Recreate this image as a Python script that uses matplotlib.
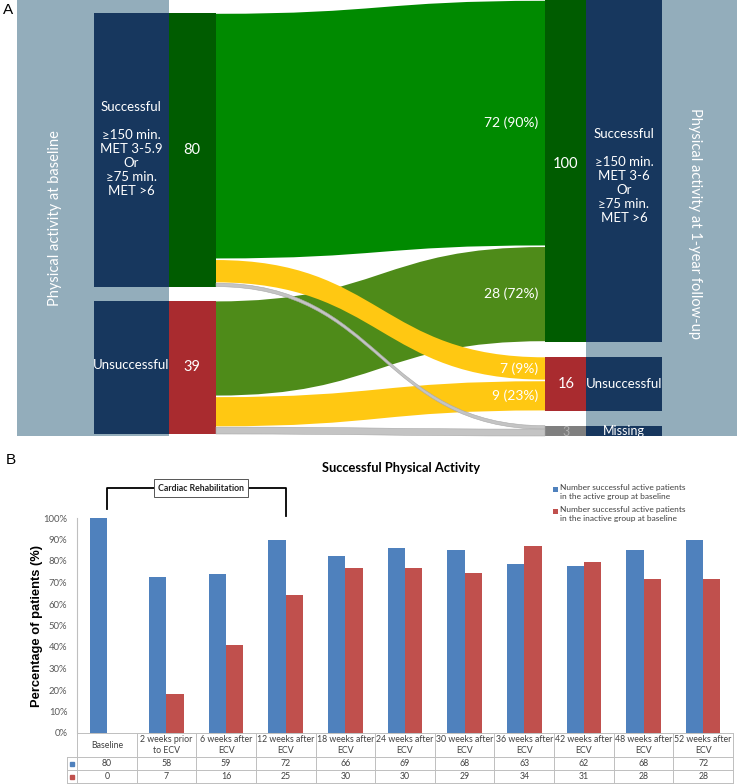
import matplotlib.pyplot as plt
import numpy as np
from matplotlib.path import Path
from matplotlib.patches import PathPatch, Rectangle

plt.rcParams['font.family'] = ['Lato', 'DejaVu Sans']

# ---- panel A data (baseline -> 1 year follow-up)
left_counts = [80, 39]
right_counts = [100, 16, 3]
left_text = ['Successful\n\n\u2265150 min.\nMET 3-5.9\nOr\n\u226575 min.\nMET >6', 'Unsuccessful']
right_text = ['Successful\n\n\u2265150 min.\nMET 3-6\nOr\n\u226575 min.\nMET >6', 'Unsuccessful', 'Missing']
flow_src = [0, 0, 0, 1, 1, 1]
flow_dst = [0, 1, 2, 0, 1, 2]
flow_n = [72, 7, 1, 28, 9, 2]
flow_labels = ['72 (90%)', '7 (9%)', '', '28 (72%)', '9 (23%)', '']

# ---- panel B data
timepoints = ['Baseline', '2 weeks prior\nto ECV', '6 weeks after\nECV', '12 weeks after\nECV',
              '18 weeks after\nECV', '24 weeks after\nECV', '30 weeks after\nECV', '36 weeks after\nECV',
              '42 weeks after\nECV', '48 weeks after\nECV', '52 weeks after\nECV']
n_active = [80, 58, 59, 72, 66, 69, 68, 63, 62, 68, 72]
n_inactive = [0, 7, 16, 25, 30, 30, 29, 34, 31, 28, 28]
group_active = 80
group_inactive = 39

W, H = 738, 784
fig = plt.figure(figsize=(W / 100, H / 100), dpi=100)

def fx(px):
    return px / W

def fy(py):
    return 1 - py / H

# ===================== panel A
axA = fig.add_axes([0, 0, 1, 1])
axA.set_xlim(0, W)
axA.set_ylim(H, 0)
axA.axis('off')

band = '#93ADBB'
navy = '#17375E'
white = 'white'
k = 3.42  # px per patient

axA.add_patch(Rectangle((17, 0), 152, 436, fc=band, ec='none'))
axA.add_patch(Rectangle((586, 0), 151, 436, fc=band, ec='none'))

left_col = ['#005C00', '#A92B2F']
right_col = ['#005C00', '#A92B2F', '#7F7F7F']

left_top = []
y = 13
for n in left_counts:
    left_top.append(y)
    y += n * k + 14
right_top = []
y = 0
for n in right_counts:
    right_top.append(y)
    y += n * k + 14.5

for i, n in enumerate(left_counts):
    h = n * k
    axA.add_patch(Rectangle((94, left_top[i]), 75, h, fc=navy, ec='none'))
    axA.add_patch(Rectangle((169, left_top[i]), 47, h, fc=left_col[i], ec='none'))
    axA.text(192, left_top[i] + h / 2, str(n), color=white, fontsize=10.5, ha='center', va='center')
    axA.text(131, left_top[i] + h / 2 - (1 if i == 0 else 2), left_text[i], color=white, fontsize=9.5,
             ha='center', va='center', linespacing=1.2)

for i, n in enumerate(right_counts):
    h = n * k
    axA.add_patch(Rectangle((545, right_top[i]), 41, h, fc=right_col[i], ec='none'))
    axA.add_patch(Rectangle((586, right_top[i]), 76, h, fc=navy, ec='none'))
    if i < 2:
        axA.text(566, right_top[i] + h / 2 - (7 if i == 0 else 0), str(n), color=white, fontsize=10.5,
                 ha='center', va='center')
    else:
        axA.text(566, right_top[i] + h / 2 + 1, str(n), color='#B0B0B0', fontsize=9, ha='center', va='center')
    axA.text(624, right_top[i] + h / 2 + (5 if i == 0 else 0), right_text[i], color=white,
             fontsize=9.5 if i < 2 else 9, ha='center', va='center', linespacing=1.2)

axA.text(55, 218, 'Physical activity at baseline', color=white, fontsize=10.5, rotation=90,
         ha='center', va='center')
axA.text(695, 223, 'Physical activity at 1-year follow-up', color=white, fontsize=10.5, rotation=270,
         ha='center', va='center')

flow_colors = {(0, 0): '#008A00', (1, 0): '#4E8B19'}
x0, x1 = 216, 545
xm = (x0 + x1) / 2
lo = list(left_top)
ro = list(right_top)
for s, d, n, lab in zip(flow_src, flow_dst, flow_n, flow_labels):
    h = n * k
    a, b = lo[s], ro[d]
    lo[s] += h
    ro[d] += h
    g = 0.8 if d < 2 else 0.0
    ya0, ya1, yb0, yb1 = a + g, a + h - g, b + g, b + h - g
    verts = [(x0, ya0), (xm, ya0), (xm, yb0), (x1, yb0), (x1, yb1), (xm, yb1), (xm, ya1), (x0, ya1), (x0, ya0)]
    codes = [Path.MOVETO, Path.CURVE4, Path.CURVE4, Path.CURVE4, Path.LINETO,
             Path.CURVE4, Path.CURVE4, Path.CURVE4, Path.CLOSEPOLY]
    if d == 2:
        patch = PathPatch(Path(verts, codes), fc='#C4C4C4', ec='#A8A8A8', lw=0.4, zorder=4)
    elif d == 1:
        patch = PathPatch(Path(verts, codes), fc='#FFC812', ec='none', zorder=3)
    else:
        patch = PathPatch(Path(verts, codes), fc=flow_colors[(s, d)], ec='none', zorder=2)
    axA.add_patch(patch)
    if lab:
        axA.text(538, b + h / 2, lab, color=white, fontsize=10, ha='right', va='center', zorder=5)

fig.text(fx(3), fy(10), 'A', fontsize=11, family='Liberation Sans', va='center', ha='left')
fig.text(fx(6), fy(460), 'B', fontsize=11, family='Liberation Sans', va='center', ha='left')

# ===================== panel B
axB = fig.add_axes([fx(77), fy(733), 656 / W, 215 / H])
axB.patch.set_visible(False)
p_active = np.array(n_active) / group_active
p_inactive = np.array(n_inactive) / group_inactive
x = np.arange(len(timepoints))
bw = 0.29
blue, red = '#4F81BD', '#C0504D'
axB.bar(x - bw / 2, p_active, bw, color=blue)
axB.bar(x + bw / 2, p_inactive, bw, color=red)
axB.set_xlim(-0.5, len(x) - 0.5)
axB.set_ylim(0, 1)
axB.set_yticks(np.arange(0, 1.01, 0.1))
axB.set_yticklabels(['%d%%' % v for v in range(0, 101, 10)], fontsize=6.8, color='#595959')
axB.tick_params(axis='y', length=0, pad=7)
axB.set_xticks([])
for sp in ['top', 'right', 'bottom']:
    axB.spines[sp].set_visible(False)
axB.spines['left'].set_color('#BFBFBF')
axB.spines['left'].set_linewidth(0.8)

fig.text(fx(37), fy(626), 'Percentage of patients (%)', fontsize=9.3, fontweight='bold',
         family='Liberation Sans', rotation=90, ha='center', va='center')
fig.text(fx(401), fy(468), 'Successful Physical Activity', fontsize=9.3, fontweight='bold',
         ha='center', va='center')

# data table under the axis
tr = axB.get_xaxis_transform()
gc = '#BFBFBF'
row_y = [0, -24 / 215, -37 / 215, -50 / 215]
key_x = -0.5 - 10 / 59.6
for i in range(len(x) + 1):
    axB.plot([i - 0.5, i - 0.5], [row_y[0], row_y[-1]], color=gc, lw=0.7, transform=tr, clip_on=False)
axB.plot([key_x, key_x], [row_y[1], row_y[-1]], color=gc, lw=0.7, transform=tr, clip_on=False)
for j, yy in enumerate(row_y):
    xs = -0.5 if j == 0 else key_x
    axB.plot([xs, len(x) - 0.5], [yy, yy], color=gc, lw=0.7, transform=tr, clip_on=False)
for i, lab in enumerate(timepoints):
    axB.text(i, (row_y[0] + row_y[1]) / 2, lab, transform=tr, ha='center', va='center',
             fontsize=6.3, color='#404040', linespacing=1.3)
    axB.text(i, (row_y[1] + row_y[2]) / 2, str(n_active[i]), transform=tr, ha='center', va='center',
             fontsize=6.3, color='#404040')
    axB.text(i, (row_y[2] + row_y[3]) / 2, str(n_inactive[i]), transform=tr, ha='center', va='center',
             fontsize=6.3, color='#404040')
kx = (key_x - 0.5) / 2
axB.plot([kx], [(row_y[1] + row_y[2]) / 2], 's', ms=3.2, color=blue, transform=tr, clip_on=False)
axB.plot([kx], [(row_y[2] + row_y[3]) / 2], 's', ms=3.2, color=red, transform=tr, clip_on=False)

# cardiac rehabilitation bracket
yb = (733 - 488) / 215
axB.plot([0, 0, 3, 3], [(733 - 509) / 215, yb, yb, (733 - 516) / 215], color='black', lw=1.3,
         transform=tr, clip_on=False)
axB.text(1.58, yb, 'Cardiac Rehabilitation', transform=tr, ha='center', va='center', fontsize=6.3,
         fontweight='bold', color='#222222',
         bbox=dict(boxstyle='square,pad=0.5', fc='white', ec='#555555', lw=0.7))

# legend
leg_labels = ['Number successful active patients\nin the active group at baseline',
              'Number successful active patients\nin the inactive group at baseline']
for py, col, lab in zip([489, 511], [blue, red], leg_labels):
    fig.patches.append(Rectangle((fx(553), fy(py + 2.5)), 5 / W, 5 / H, fc=col, ec='none',
                                 transform=fig.transFigure, figure=fig))
    fig.text(fx(560), fy(py - 5), lab, fontsize=6.0, color='#404040', ha='left', va='top', linespacing=1.35)

fig.savefig('out.png', dpi=100)
